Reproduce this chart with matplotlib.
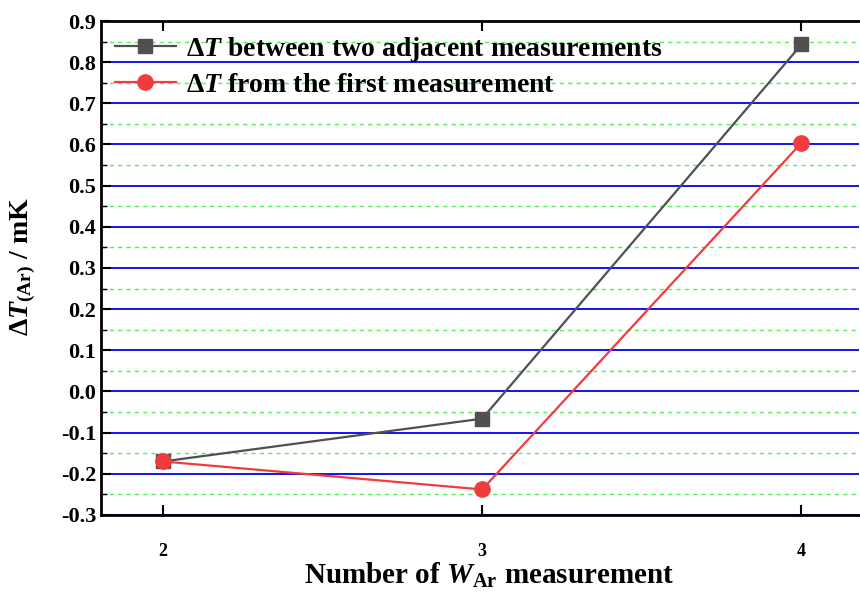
import numpy as np
import matplotlib.pyplot as plt
from matplotlib.ticker import MultipleLocator

# Data
measurement = [2, 3, 4]
dT_adjacent = [-0.170, -0.066, 0.843]
dT_first = [-0.170, -0.238, 0.604]
yticks = [-0.3, -0.2, -0.1, 0.0, 0.1, 0.2, 0.3, 0.4, 0.5, 0.6, 0.7, 0.8, 0.9]

plt.rcParams['font.family'] = ['Liberation Serif', 'DejaVu Serif']
plt.rcParams['font.weight'] = 'bold'
plt.rcParams['axes.labelweight'] = 'bold'
plt.rcParams['mathtext.fontset'] = 'custom'
plt.rcParams['mathtext.rm'] = 'Liberation Serif:bold'
plt.rcParams['mathtext.it'] = 'Liberation Serif:italic:bold'
plt.rcParams['mathtext.bf'] = 'Liberation Serif:bold'

fig = plt.figure(figsize=(8.6, 5.95), dpi=100)
ax = fig.add_axes([0.1174, 0.1345, 0.8814, 0.8302])

ax.set_xlim(1.806, 4.18)
ax.set_ylim(-0.3, 0.9)

ax.yaxis.set_minor_locator(MultipleLocator(0.05))
ax.xaxis.set_major_locator(MultipleLocator(1))
ax.set_yticks(yticks)
ax.set_yticklabels([f'{v:.1f}' for v in yticks])

ax.grid(True, which='major', axis='y', color='#0000ee', linestyle='-', linewidth=1.3)
ax.grid(True, which='minor', axis='y', color='#55ee55', linestyle=(0, (3, 3)), linewidth=1.0)
ax.set_axisbelow(True)

ax.plot(measurement, dT_adjacent, color='#505050', linewidth=1.6, marker='s',
        markersize=10, label=r'$\Delta T$ between two adjacent measurements', zorder=3)
ax.plot(measurement, dT_first, color='#f03c3c', linewidth=1.6, marker='o',
        markersize=11, label=r'$\Delta T$ from the first measurement', zorder=3)

ax.tick_params(axis='both', which='major', direction='in', length=7, width=1.5,
               labelsize=16, top=True, right=False)
ax.tick_params(axis='y', which='minor', direction='in', length=4, width=1.0)
ax.tick_params(axis='x', which='major', labelsize=13, pad=20)

for s in ax.spines.values():
    s.set_linewidth(2)
ax.spines['right'].set_visible(False)

ax.set_xlabel(r'Number of $W_{\mathrm{Ar}}$ measurement', fontsize=21)
ax.xaxis.set_label_coords(489 / 860, 1 - 561 / 595, transform=fig.transFigure)
ax.set_ylabel(r'$\Delta T_{(\mathrm{Ar})}$ / mK', fontsize=20)
ax.yaxis.set_label_coords(38 / 860, 1 - 267 / 595, transform=fig.transFigure)

ax.legend(loc='upper left', frameon=False, fontsize=20, handlelength=2.2,
          borderaxespad=0.2, labelspacing=0.3, handletextpad=0.35,
          borderpad=0.3)

fig.savefig('out.png', dpi=100)
